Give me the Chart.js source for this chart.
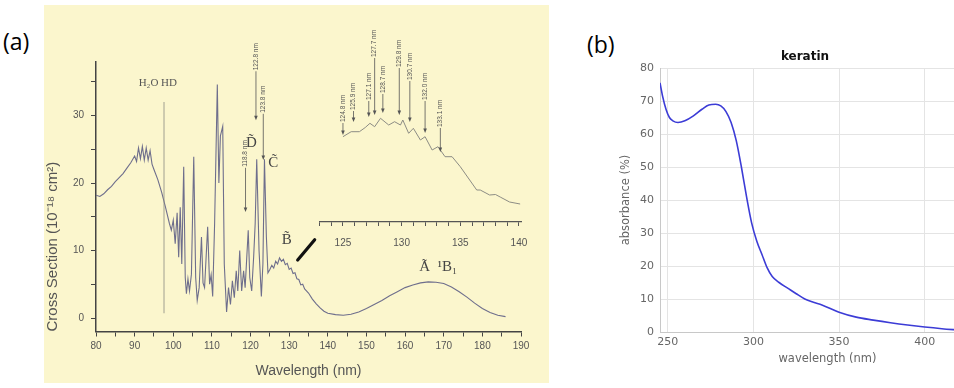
<!DOCTYPE html>
<html><head><meta charset="utf-8">
<script src="https://cdn.jsdelivr.net/npm/chart.js@4.4.1/dist/chart.umd.min.js"></script>
<style>
html,body{margin:0;padding:0;width:954px;height:388px;overflow:hidden;background:#fff;position:relative}
.abs{position:absolute}
#yellow{left:44px;top:5px;width:505px;height:378px;background:#fbf6cd}
.plabel{font-family:"Open Sans",sans-serif;font-size:23px;color:#000;line-height:1}
</style></head><body>
<div id="yellow" class="abs"></div>
<div class="abs plabel" style="left:3px;top:30px">(a)</div>
<div class="abs plabel" style="left:587px;top:33px">(b)</div>
<canvas id="cA" class="abs" style="left:44px;top:5px;width:505px;height:378px" width="505" height="378"></canvas>
<canvas id="cI" class="abs" style="left:300px;top:0px;width:245px;height:255px" width="245" height="255"></canvas>
<canvas id="cB" class="abs" style="left:575px;top:40px;width:420px;height:330px" width="420" height="330"></canvas>
<script>
// ---------- panel (a): main spectrum ----------
const mainWavelength = [80.0,81.0,82.0,83.0,84.0,85.0,86.0,87.0,88.0,89.0,90.0,90.5,91.0,91.5,92.0,92.5,93.0,93.5,94.0,94.5,95.0,96.0,97.0,98.0,99.0,99.5,100.0,100.5,101.0,101.4,101.8,102.2,102.7,103.1,103.4,103.8,104.2,104.7,105.3,105.8,106.2,106.7,107.3,107.7,108.1,108.5,108.9,109.4,109.8,110.2,110.7,111.4,111.8,112.2,112.8,113.2,113.8,114.3,114.8,115.3,115.8,116.3,116.7,117.2,117.7,118.2,118.6,119.4,119.8,120.3,120.8,121.2,121.6,122.2,122.8,123.2,123.6,124.1,124.5,125.0,125.5,126.0,126.5,127.0,127.5,128.0,128.5,129.0,129.5,130.0,130.5,131.0,131.5,132.0,132.5,133.0,133.5,134.0,135.0,136.0,137.0,138.0,139.0,140.0,142.0,144.0,146.0,148.0,150.0,152.0,154.0,156.0,158.0,160.0,162.0,164.0,166.0,168.0,170.0,172.0,174.0,176.0,178.0,180.0,182.0,184.0,186.0];
const mainCrossSection = [18.2,18.0,18.4,19.0,19.5,20.2,20.8,21.4,22.2,23.0,24.0,23.2,25.2,23.6,25.4,23.4,25.2,23.4,24.8,22.8,22.0,20.5,18.6,16.4,14.0,13.0,14.5,11.0,15.6,9.0,16.4,8.0,22.4,6.0,3.6,5.8,4.0,6.5,23.9,6.0,2.6,4.5,12.0,5.2,4.5,9.0,13.5,5.0,6.4,3.2,14.0,34.6,20.0,27.0,28.4,8.0,0.9,4.5,2.0,5.5,3.0,7.0,4.0,10.0,4.0,7.0,4.5,13.0,6.0,4.0,9.0,14.0,23.5,10.0,3.2,8.0,23.5,12.0,6.7,7.2,7.8,7.4,8.4,8.0,8.9,8.4,8.7,7.9,8.1,7.2,7.4,6.6,6.7,5.8,5.7,4.9,5.0,4.3,3.7,2.8,2.1,1.5,1.0,0.7,0.5,0.4,0.55,0.9,1.4,2.0,2.6,3.3,3.9,4.5,4.9,5.2,5.35,5.3,5.1,4.6,3.9,3.1,2.2,1.4,0.8,0.4,0.2];
const mainXTicks = [80,90,100,110,120,130,140,150,160,170,180,190];
const mainXMinor = [80,85,90,95,100,105,110,115,120,125,130,135,140,145,150,155,160,165,170,175,180,185,190];
const mainYTicks = [0,10,20,30];
const mainYMinor = [0,5,10,15,20,25,30,35];
// annotations (wavelength nm, cross-section units)
const ipLineNm = 97.6, ipLineFrom = 0.7, ipLineTo = 32;
const ipLabel = 'H₂O HD', ipLabelNm = 96.0, ipLabelVal = 34.8;
const mainArrowLabels = ['118.8 nm','122.8 nm','123.8 nm'];
const mainArrowNm = [118.7, 121.4, 123.3];
const mainArrowLabelBottom = [22.4, 36.7, 30.4];
const mainArrowTip = [15.7, 29.3, 23.4];
const stateLabels = ['D̃','C̃','B̃','Ã  ¹B₁'];
const stateNm = [120.2, 125.9, 129.4, 168.6];
const stateVal = [25.9, 22.9, 11.6, 7.6];
const pointerFromNm = 132.2, pointerFromVal = 8.6, pointerToNm = 136.6, pointerToVal = 11.6;

// ---------- panel (a): inset ----------
const insetWavelength = [125.0,125.7,126.4,126.9,127.3,127.7,128.2,128.9,129.4,129.9,130.1,130.6,131.0,131.6,132.0,132.6,133.1,133.7,134.3,135.0,135.8,136.4,136.7,137.5,138.0,138.4,139.2,140.1];
const insetSignal = [85.3,90.3,90.3,94.5,98.7,95.3,103.7,97.0,100.3,97.0,102.0,88.7,93.7,82.0,85.3,72.0,75.3,65.3,65.3,55.3,42.0,32.0,32.0,27.0,27.5,25.0,20.0,18.0];
const insetXTicks = [125,130,135,140];
const insetXMinor = [123,124,125,126,127,128,129,130,131,132,133,134,135,136,137,138,139,140];
const insetPeakLabels = ['124.8 nm','125.9 nm','127.1 nm','127.7 nm','128.7 nm','129.8 nm','130.7 nm','132.0 nm','133.1 nm'];
const insetPeakNm = [125.0,125.9,127.2,127.7,128.4,129.8,130.7,132.0,133.3];
const insetLabelBottom = [100,112,122,165,129,155,142,122,95];
const insetArrowTip = [87,100,105,107,109,107,100,89,70];

// ---------- panel (b): keratin ----------
const keratinWavelength = [245.5,247,249,251,253,256,260,265,270,274,278,281,284,287,290,293,296,299,302,305,308,311,315,320,325,330,335,340,350,360,370,380,390,400,410,420];
const keratinAbsorbance = [75.5,71.5,67.5,65,64,63.5,64,65.5,67.5,68.8,69,68.5,66.8,63.5,58,50,41,33,27.5,23.5,19.5,16.8,15,13.3,11.6,10,9,8.2,6.0,4.5,3.6,2.8,2.1,1.5,1.0,0.6];
const keratinXTicks = [250,300,350,400];
const keratinYTicks = [0,10,20,30,40,50,60,70,80];

function pts(xs, ys){ return xs.map((x,i)=>({x:x, y:ys[i]})); }

function arrowLabel(ctx, xp, yb, yt, text){
  ctx.save(); ctx.translate(xp, yb); ctx.rotate(-Math.PI/2);
  ctx.textAlign='left'; ctx.textBaseline='middle'; ctx.fillText(text, 0, 0); ctx.restore();
  ctx.beginPath(); ctx.moveTo(xp, yb+1); ctx.lineTo(xp, yt-3); ctx.stroke();
  ctx.beginPath(); ctx.moveTo(xp-1.8, yt-4.5); ctx.lineTo(xp+1.8, yt-4.5); ctx.lineTo(xp, yt); ctx.closePath(); ctx.fill();
}

const annotA = {
  id:'annotA',
  afterDatasetsDraw(chart){
    const {ctx, scales:{x, y}} = chart;
    ctx.save();
    ctx.strokeStyle='#8a8a80'; ctx.lineWidth=0.8;
    ctx.beginPath(); ctx.moveTo(x.getPixelForValue(ipLineNm), y.getPixelForValue(ipLineFrom));
    ctx.lineTo(x.getPixelForValue(ipLineNm), y.getPixelForValue(ipLineTo)); ctx.stroke();
    ctx.fillStyle='#555'; ctx.font='11px "Liberation Serif"'; ctx.textAlign='center'; ctx.textBaseline='middle';
    ctx.fillText(ipLabel, x.getPixelForValue(ipLabelNm), y.getPixelForValue(ipLabelVal));
    ctx.strokeStyle='#555'; ctx.fillStyle='#555'; ctx.lineWidth=0.8; ctx.font='6.5px "Liberation Sans"';
    mainArrowLabels.forEach((t,i)=>arrowLabel(ctx, x.getPixelForValue(mainArrowNm[i]), y.getPixelForValue(mainArrowLabelBottom[i]), y.getPixelForValue(mainArrowTip[i]), t));
    ctx.fillStyle='#444'; ctx.font='15px "Liberation Serif"'; ctx.textAlign='center'; ctx.textBaseline='middle';
    stateLabels.forEach((t,i)=>ctx.fillText(t, x.getPixelForValue(stateNm[i]), y.getPixelForValue(stateVal[i])));
    ctx.strokeStyle='#111'; ctx.lineWidth=3.2; ctx.lineCap='round';
    ctx.beginPath(); ctx.moveTo(x.getPixelForValue(pointerFromNm), y.getPixelForValue(pointerFromVal));
    ctx.lineTo(x.getPixelForValue(pointerToNm), y.getPixelForValue(pointerToVal)); ctx.stroke();
    ctx.restore();
  }
};

const annotI = {
  id:'annotI',
  afterDatasetsDraw(chart){
    const {ctx, scales:{x, y}} = chart;
    ctx.save();
    ctx.strokeStyle='#555'; ctx.fillStyle='#555'; ctx.lineWidth=0.8; ctx.font='6.5px "Liberation Sans"';
    insetPeakLabels.forEach((t,i)=>arrowLabel(ctx, x.getPixelForValue(insetPeakNm[i]), y.getPixelForValue(insetLabelBottom[i]), y.getPixelForValue(insetArrowTip[i]), t));
    ctx.restore();
  }
};

const axisFontA = {family:'Liberation Sans', size:10};

new Chart(document.getElementById('cA'), {
  type:'line',
  data:{datasets:[{data:pts(mainWavelength, mainCrossSection), borderColor:'#6e6e8c', borderWidth:1.1, pointRadius:0, tension:0, fill:false}]},
  options:{
    responsive:false, animation:false, devicePixelRatio:1,
    layout:{padding:{top:56.5, right:28, left:0, bottom:0}},
    plugins:{legend:{display:false}, tooltip:{enabled:false}},
    scales:{
      x:{type:'linear', min:80, max:190,
        afterBuildTicks:s=>{s.ticks=mainXMinor.map(v=>({value:v}));},
        afterFit:s=>{s.height=51.5;},
        ticks:{autoSkip:false, maxRotation:0, padding:4, color:'#555', font:axisFontA, callback:v=>mainXTicks.includes(v)?String(v):''},
        grid:{drawOnChartArea:false, drawTicks:true, tickLength:5, color:'#444'},
        border:{display:true, color:'#444', width:1.5},
        title:{display:true, text:'Wavelength (nm)', color:'#555', font:{family:'Liberation Sans', size:14}, padding:{top:0, bottom:3}}
      },
      y:{type:'linear', min:-2, max:38,
        afterBuildTicks:s=>{s.ticks=mainYMinor.map(v=>({value:v}));},
        afterFit:s=>{s.width=52;},
        ticks:{autoSkip:false, padding:7, color:'#555', font:axisFontA, callback:v=>mainYTicks.includes(v)?String(v):''},
        grid:{drawOnChartArea:false, drawTicks:true, tickLength:5, color:'#444'},
        border:{display:true, color:'#444', width:1.5},
        title:{display:true, align:'start', text:'Cross Section (10⁻¹⁸ cm²)', color:'#555', font:{family:'Liberation Sans', size:15}, padding:{top:0, bottom:0}}
      }
    }
  },
  plugins:[annotA]
});

new Chart(document.getElementById('cI'), {
  type:'line',
  data:{datasets:[{data:pts(insetWavelength, insetSignal), borderColor:'#8c8c84', borderWidth:1, pointRadius:0, tension:0, fill:false}]},
  options:{
    responsive:false, animation:false, devicePixelRatio:1,
    layout:{padding:{top:100, right:23.7, left:19.5, bottom:0}},
    plugins:{legend:{display:false}, tooltip:{enabled:false}},
    scales:{
      x:{type:'linear', min:123, max:140.2,
        afterBuildTicks:s=>{s.ticks=insetXMinor.map(v=>({value:v}));},
        afterFit:s=>{s.height=33;},
        ticks:{autoSkip:false, maxRotation:0, padding:11, color:'#555', font:axisFontA, callback:v=>insetXTicks.includes(v)?String(v):''},
        grid:{drawOnChartArea:false, drawTicks:true, tickLength:4, color:'#555'},
        border:{display:true, color:'#555', width:1.3}
      },
      y:{display:false, min:0, max:122}
    }
  },
  plugins:[annotI]
});

new Chart(document.getElementById('cB'), {
  type:'line',
  data:{datasets:[{data:pts(keratinWavelength, keratinAbsorbance), borderColor:'#3c3cd6', borderWidth:1.6, pointRadius:0, tension:0.25, cubicInterpolationMode:'monotone', fill:false}]},
  options:{
    responsive:false, animation:false, devicePixelRatio:1,
    layout:{padding:{top:0, right:0, left:40, bottom:0}},
    plugins:{legend:{display:false}, tooltip:{enabled:false},
      title:{display:true, text:'keratin', color:'#111', font:{family:'DejaVu Sans', size:12, weight:'bold'}, padding:{top:9.8, bottom:3.8}}},
    scales:{
      x:{type:'linear', min:245.5, max:441,
        afterBuildTicks:s=>{s.ticks=keratinXTicks.map(v=>({value:v}));},
        afterFit:s=>{s.height=38;},
        ticks:{autoSkip:false, maxRotation:0, padding:4, color:'#666', font:{family:'DejaVu Sans', size:11}},
        grid:{drawTicks:false, tickLength:0, color:'#e4e4e4'},
        border:{display:true, color:'#c8c8c8', width:1},
        title:{display:true, text:'wavelength (nm)', color:'#666', font:{family:'DejaVu Sans', size:11.5}, padding:{top:0, bottom:4}}
      },
      y:{type:'linear', min:0, max:80,
        afterBuildTicks:s=>{s.ticks=keratinYTicks.map(v=>({value:v}));},
        afterFit:s=>{s.width=45;},
        ticks:{autoSkip:false, padding:6, color:'#666', font:{family:'DejaVu Sans', size:11}},
        grid:{drawTicks:false, tickLength:0, color:'#e4e4e4'},
        border:{display:true, color:'#c8c8c8', width:1},
        title:{display:true, text:'absorbance (%)', color:'#666', font:{family:'DejaVu Sans', size:11.5}, padding:{top:4, bottom:4}}
      }
    }
  }
});
</script>
</body></html>
